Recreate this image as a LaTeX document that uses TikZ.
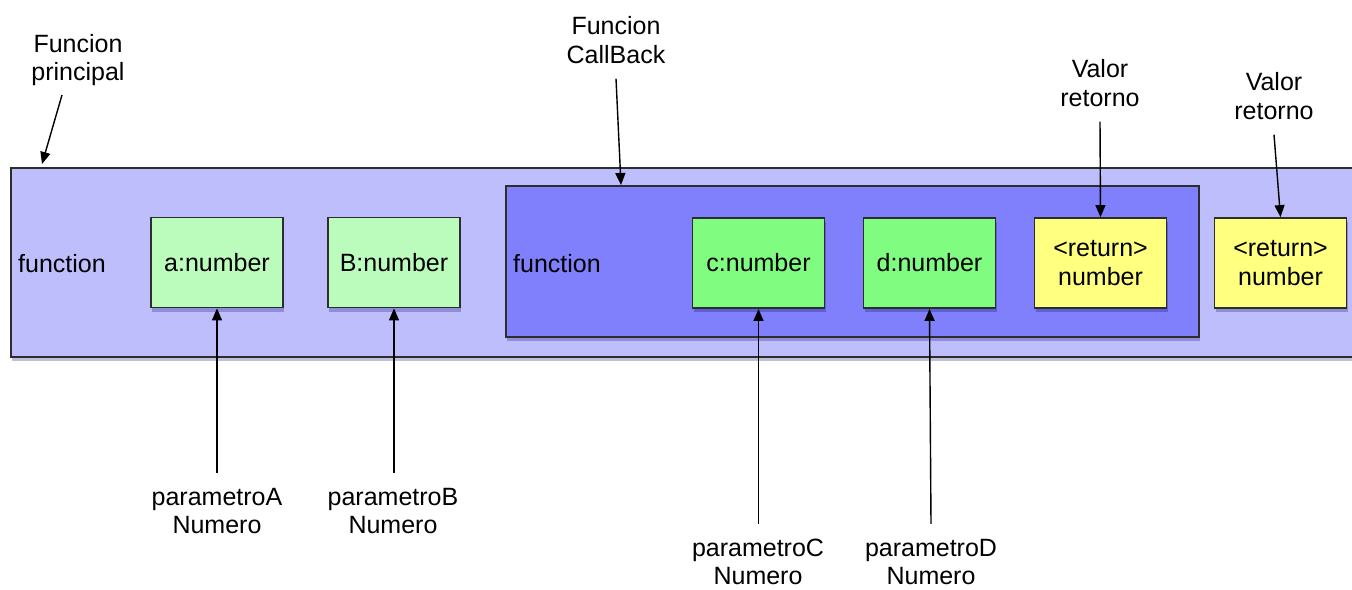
\documentclass[tikz,border=0pt]{standalone}
\usepackage{fontspec}
\setmainfont{Liberation Sans}
\usetikzlibrary{arrows.meta,shadows}
\definecolor{outerc}{RGB}{190,190,252}
\definecolor{innerc}{RGB}{128,128,252}
\definecolor{lgreen}{RGB}{187,252,189}
\definecolor{dgreen}{RGB}{128,252,128}
\definecolor{yel}{RGB}{255,255,128}
\definecolor{bord}{RGB}{45,45,45}
\tikzset{
  shad/.style={drop shadow={shadow xshift=1pt,shadow yshift=-4pt,opacity=0.25,fill=black!60!blue}},
  frame/.style={draw=bord,line width=1.8pt,inner sep=0pt},
  param/.style={frame,shad,minimum width=132pt,minimum height=90pt,align=center},
  lbl/.style={align=center,inner xsep=7pt,inner ysep=15pt},
  arr/.style={-{Triangle[length=12pt,width=10pt]},line width=1.4pt,black},
}
\begin{document}
\begin{tikzpicture}[x=1pt,y=-1pt,font=\fontsize{25}{28.5}\selectfont]
\useasboundingbox (0,0) rectangle (1352,589);
\clip (0,0) rectangle (1352,589);
\fill[white] (0,0) rectangle (1352,589);
% main function box
\node[frame,fill=outerc,shad,minimum width=1352pt,minimum height=189pt] (main) at (687,262.5) {};
\node[anchor=west,inner sep=0pt] (f1) at (18,264) {function};
% callback box
\node[frame,fill=innerc,shad,minimum width=693pt,minimum height=151pt] (cb) at (852.5,261.5) {};
\node[anchor=west,inner sep=0pt] (f2) at (513,264) {function};
% parameter boxes
\node[param,fill=lgreen] (a) at (217,262.5) {a:number};
\node[param,fill=lgreen] (b) at (394,262.5) {B:number};
\node[param,fill=dgreen] (c) at (758.5,263) {c:number};
\node[param,fill=dgreen] (d) at (929.5,263) {d:number};
\node[param,fill=yel] (r1) at (1100.5,263) {<return>\\number};
\node[param,fill=yel] (r2) at (1280.5,263) {<return>\\number};
% labels
\node[lbl] (fp) at (78,60) {Funcion\\principal};
\node[lbl] (fc) at (616,40) {Funcion\\CallBack};
\node[lbl] (v1) at (1100,83) {Valor\\retorno};
\node[lbl] (v2) at (1274,96) {Valor\\retorno};
\node[lbl] (pA) at (217,511) {parametroA\\Numero};
\node[lbl] (pB) at (393,511) {parametroB\\Numero};
\node[lbl] (pC) at (758,562) {parametroC\\Numero};
\node[lbl] (pD) at (931,562) {parametroD\\Numero};
% arrow end points
\coordinate (fpS) at (62,95);
\coordinate (fpE) at (42,164);
\coordinate (fcE) at (621,185);
\draw[arr] (fpS) -- (fpE);
\draw[arr] (fc.south) -- (fcE);
\draw[arr] (v1.south) -- (r1.north);
\draw[arr] (v2.south) -- (r2.north);
\draw[arr] (pA.north) -- (a.south);
\draw[arr] (pB.north -| b.south) -- (b.south);
\draw[arr] (pC.north -| c.south) -- (c.south);
\draw[arr] (pD.north) -- (d.south);
\end{tikzpicture}
\end{document}
